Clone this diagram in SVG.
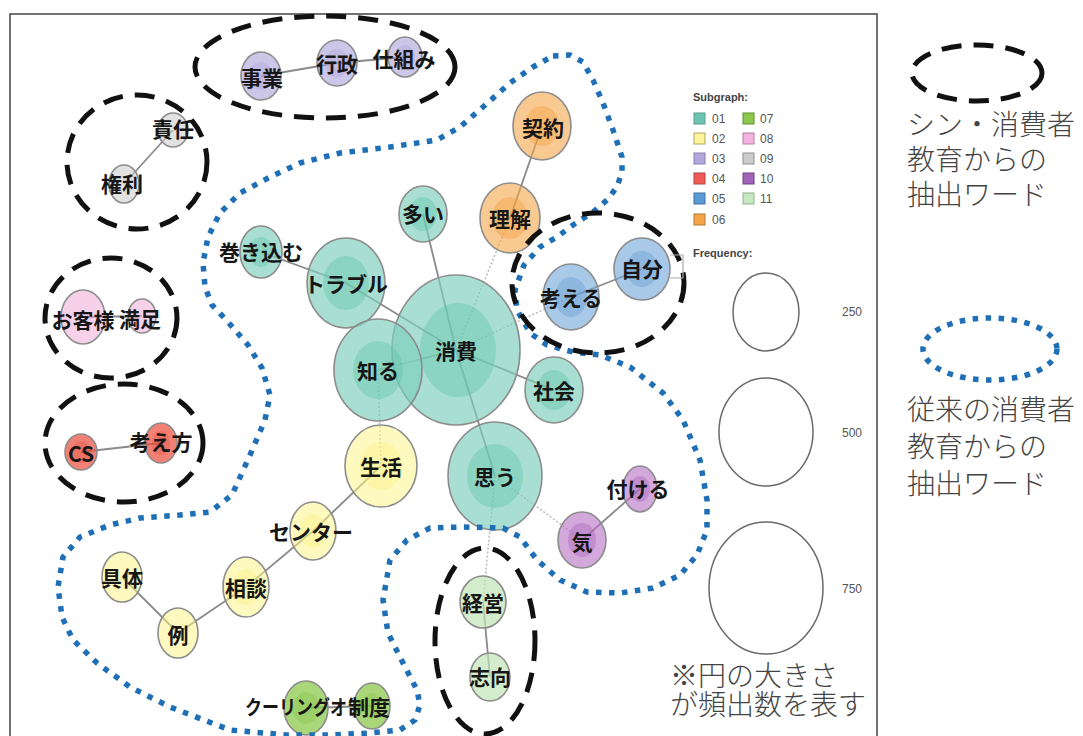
<svg xmlns="http://www.w3.org/2000/svg" width="1083" height="736" viewBox="0 0 1083 736">
<style>
.n{stroke:#8c8c8c;stroke-width:1.6}
.in{stroke:none}
.t{font-family:"Noto Sans CJK JP","Noto Sans CJK SC",sans-serif;font-weight:bold;font-size:21px;fill:#161616;text-anchor:middle;dominant-baseline:central}
.e{stroke:#8a8a8a;stroke-width:1.8;fill:none}
.d{stroke:#bdbdbd;stroke-width:1.6;fill:none;stroke-dasharray:2 2}
.g{fill:none;stroke:#111;stroke-width:5;stroke-dasharray:20 12}
.b{fill:none;stroke:#1f6fb6;stroke-width:5.5;stroke-dasharray:5.5 7.5}
.lg{font-family:"Liberation Sans",Arial,sans-serif;font-size:12px;fill:#555}
.lh{font-family:"Liberation Sans",Arial,sans-serif;font-size:11px;font-weight:bold;fill:#444}
.jt{font-family:"Noto Sans CJK JP","Noto Sans CJK SC",sans-serif;font-size:28px;font-weight:300;fill:#444}
.c01{fill:#7fd0bd;fill-opacity:.68}.i01{fill:#5fc2aa;fill-opacity:.4}
.c02{fill:#fdf58a;fill-opacity:.55}.i02{fill:#fbef70;fill-opacity:.3}
.c03{fill:#aaa2d8;fill-opacity:.6}.i03{fill:#9a90d0;fill-opacity:.25}
.c04{fill:#ec5040;fill-opacity:.72}.i04{fill:#e04030;fill-opacity:.25}
.c05{fill:#6fa5d8;fill-opacity:.6}.i05{fill:#5a94cc;fill-opacity:.35}
.c06{fill:#f5a54a;fill-opacity:.6}.i06{fill:#f39a30;fill-opacity:.35}
.c07{fill:#8cc84b;fill-opacity:.75}.i07{fill:#7cbc38;fill-opacity:.25}
.c08{fill:#f2b2dc;fill-opacity:.6}.i08{fill:#ee9ed2;fill-opacity:.2}
.c09{fill:#cfcfcf;fill-opacity:.6}.i09{fill:#c0c0c0;fill-opacity:.2}
.c10{fill:#b56fc4;fill-opacity:.6}.i10{fill:#a458b8;fill-opacity:.35}
.c11{fill:#c0e4b5;fill-opacity:.7}.i11{fill:#a8d89a;fill-opacity:.2}
</style>
<rect x="0" y="0" width="1083" height="736" fill="#ffffff"/>
<path d="M10,742 V14 H877 V742" fill="none" stroke="#444" stroke-width="1.5"/>

<g id="connectors">
<line class="e" x1="261" y1="76" x2="337" y2="63"/>
<line class="e" x1="337" y1="63" x2="405" y2="57"/>
<line class="e" x1="173" y1="130" x2="124" y2="184"/>
<line class="e" x1="83" y1="317" x2="142" y2="316"/>
<line class="e" x1="81" y1="452" x2="161" y2="443"/>
<line class="e" x1="261" y1="252" x2="346" y2="283"/>
<line class="e" x1="346" y1="283" x2="456" y2="350"/>
<line class="e" x1="423" y1="214" x2="456" y2="350"/>
<line class="e" x1="378" y1="370" x2="456" y2="350"/>
<line class="e" x1="456" y1="350" x2="554" y2="390"/>
<line class="e" x1="456" y1="350" x2="495" y2="476"/>
<line class="e" x1="510" y1="218" x2="542" y2="126"/>
<line class="e" x1="571" y1="297" x2="642" y2="269"/>
<line class="e" x1="640" y1="489" x2="582" y2="540"/>
<line class="e" x1="483" y1="602" x2="490" y2="677"/>
<line class="e" x1="381" y1="466" x2="313" y2="531"/>
<line class="e" x1="313" y1="531" x2="246" y2="587"/>
<line class="e" x1="246" y1="587" x2="178" y2="633"/>
<line class="e" x1="178" y1="633" x2="122" y2="577"/>
<line class="e" x1="306" y1="708" x2="372" y2="706"/>
<line class="d" x1="510" y1="218" x2="456" y2="350"/>
<line class="d" x1="456" y1="350" x2="571" y2="297"/>
<line class="d" x1="378" y1="370" x2="381" y2="466"/>
<line class="d" x1="495" y1="476" x2="582" y2="540"/>
<line class="d" x1="495" y1="476" x2="483" y2="602"/>
</g>

<g id="n-jigyo"><ellipse class="n c03" cx="261" cy="76" rx="20" ry="24"/><ellipse class="in i03" cx="261" cy="76" rx="12" ry="14"/><text class="t" x="262" y="77">事業</text></g>
<g id="n-gyosei"><ellipse class="n c03" cx="337" cy="63" rx="20" ry="23"/><ellipse class="in i03" cx="337" cy="63" rx="12" ry="14"/><text class="t" x="337" y="63">行政</text></g>
<g id="n-shikumi"><ellipse class="n c03" cx="405" cy="57" rx="17" ry="20"/><ellipse class="in i03" cx="405" cy="57" rx="10" ry="12"/><text class="t" x="404" y="58">仕組み</text></g>
<g id="n-sekinin"><ellipse class="n c09" cx="173" cy="130" rx="15" ry="17"/><text class="t" x="173" y="128">責任</text></g>
<g id="n-kenri"><ellipse class="n c09" cx="124" cy="184" rx="15" ry="19"/><text class="t" x="122" y="183">権利</text></g>
<g id="n-okyakusama"><ellipse class="n c08" cx="83" cy="317" rx="22" ry="27"/><text class="t" x="83" y="319">お客様</text></g>
<g id="n-manzoku"><ellipse class="n c08" cx="142" cy="316" rx="14" ry="17"/><text class="t" x="140" y="318">満足</text></g>
<g id="n-cs"><ellipse class="n c04" cx="81" cy="452" rx="16" ry="18"/><ellipse class="in i04" cx="81" cy="452" rx="9" ry="11"/><text class="t" x="81" y="453">CS</text></g>
<g id="n-kangaekata"><ellipse class="n c04" cx="161" cy="443" rx="16" ry="20"/><ellipse class="in i04" cx="161" cy="443" rx="9" ry="12"/><text class="t" x="161" y="441">考え方</text></g>
<g id="n-makikomu"><ellipse class="n c01" cx="261" cy="252" rx="21" ry="26"/><ellipse class="in i01" cx="261" cy="252" rx="12" ry="15"/><text class="t" x="261" y="251">巻き込む</text></g>
<g id="n-trouble"><ellipse class="n c01" cx="346" cy="283" rx="39" ry="45"/><ellipse class="in i01" cx="346" cy="283" rx="23" ry="27"/><text class="t" x="346" y="283">トラブル</text></g>
<g id="n-ooi"><ellipse class="n c01" cx="423" cy="214" rx="24" ry="28"/><ellipse class="in i01" cx="423" cy="214" rx="14" ry="17"/><text class="t" x="423" y="213">多い</text></g>
<g id="n-rikai"><ellipse class="n c06" cx="510" cy="218" rx="30" ry="35"/><ellipse class="in i06" cx="510" cy="218" rx="18" ry="21"/><text class="t" x="510" y="218">理解</text></g>
<g id="n-keiyaku"><ellipse class="n c06" cx="542" cy="126" rx="29" ry="34"/><ellipse class="in i06" cx="542" cy="126" rx="17" ry="20"/><text class="t" x="543" y="127">契約</text></g>
<g id="n-shohi"><ellipse class="n c01" cx="456" cy="350" rx="64" ry="75"/><ellipse class="in i01" cx="458" cy="350" rx="38" ry="47"/><text class="t" x="456" y="350">消費</text></g>
<g id="n-shiru"><ellipse class="n c01" cx="378" cy="370" rx="44" ry="51"/><ellipse class="in i01" cx="378" cy="370" rx="25" ry="29"/><text class="t" x="378" y="370">知る</text></g>
<g id="n-shakai"><ellipse class="n c01" cx="554" cy="390" rx="29" ry="33"/><ellipse class="in i01" cx="554" cy="390" rx="17" ry="20"/><text class="t" x="554" y="390">社会</text></g>
<g id="n-kangaeru"><ellipse class="n c05" cx="571" cy="297" rx="28" ry="33"/><ellipse class="in i05" cx="571" cy="297" rx="16" ry="20"/><text class="t" x="571" y="297">考える</text></g>
<g id="n-jibun"><ellipse class="n c05" cx="642" cy="269" rx="28" ry="31"/><ellipse class="in i05" cx="642" cy="269" rx="16" ry="18"/><text class="t" x="642" y="268">自分</text></g>
<g id="n-omou"><ellipse class="n c01" cx="495" cy="476" rx="47" ry="54"/><ellipse class="in i01" cx="495" cy="476" rx="28" ry="32"/><text class="t" x="495" y="476">思う</text></g>
<g id="n-tsukeru"><ellipse class="n c10" cx="640" cy="489" rx="17" ry="23"/><ellipse class="in i10" cx="640" cy="489" rx="10" ry="13"/><text class="t" x="638" y="488">付ける</text></g>
<g id="n-ki"><ellipse class="n c10" cx="582" cy="540" rx="24" ry="28"/><ellipse class="in i10" cx="582" cy="540" rx="14" ry="17"/><text class="t" x="582" y="541">気</text></g>
<g id="n-seikatsu"><ellipse class="n c02" cx="381" cy="466" rx="36" ry="41"/><ellipse class="in i02" cx="381" cy="466" rx="21" ry="24"/><text class="t" x="381" y="466">生活</text></g>
<g id="n-center"><ellipse class="n c02" cx="313" cy="531" rx="23" ry="29"/><ellipse class="in i02" cx="313" cy="531" rx="13" ry="17"/><text class="t" x="311" y="531">センター</text></g>
<g id="n-sodan"><ellipse class="n c02" cx="246" cy="587" rx="23" ry="30"/><ellipse class="in i02" cx="246" cy="587" rx="13" ry="18"/><text class="t" x="246" y="587">相談</text></g>
<g id="n-gutai"><ellipse class="n c02" cx="122" cy="577" rx="20" ry="25"/><text class="t" x="122" y="577">具体</text></g>
<g id="n-rei"><ellipse class="n c02" cx="178" cy="633" rx="20" ry="25"/><text class="t" x="178" y="634">例</text></g>
<g id="n-coolingoff"><ellipse class="n c07" cx="306" cy="708" rx="22" ry="27"/><ellipse class="in i07" cx="306" cy="708" rx="13" ry="16"/><text class="t" x="245" y="706" style="text-anchor:start;font-size:20px" textLength="119" lengthAdjust="spacingAndGlyphs">クーリングオフ</text></g>
<g id="n-seido"><ellipse class="n c07" cx="372" cy="706" rx="18" ry="23"/><ellipse class="in i07" cx="372" cy="706" rx="10" ry="13"/><text class="t" x="369" y="706">制度</text></g>
<g id="n-keiei"><ellipse class="n c11" cx="483" cy="602" rx="23" ry="26"/><text class="t" x="483" y="602">経営</text></g>
<g id="n-shiko"><ellipse class="n c11" cx="490" cy="677" rx="20" ry="24"/><text class="t" x="490" y="676">志向</text></g>

<g id="group-outlines">
<path class="b" d="M553,56 L570,55 L583,62 L593,80 L603,103 L613,130 L622,157 L622,172 L617,187 L607,200 L593,212 L573,225 L557,237 L540,247 L524,265 L515,290 L517,310 L530,333 L547,345 L573,352 L600,355 L630,367 L663,393 L683,420 L700,460 L707,500 L707,530 L697,555 L680,575 L653,588 L620,593 L587,592 L560,580 L537,560 L520,537 L503,528 L463,527 L430,528 L407,540 L390,560 L383,600 L388,633 L403,663 L417,690 L420,705 L415,720 L400,730 L370,733 L330,735 L287,735 L230,730 L170,707 L130,687 L97,663 L73,640 L62,617 L58,587 L63,557 L80,537 L110,525 L140,518 L180,515 L210,512 L232,495 L250,455 L265,420 L270,395 L262,368 L248,345 L228,322 L212,305 L205,287 L203,263 L208,237 L220,213 L240,193 L270,177 L300,163 L340,153 L390,147 L437,140 L460,127 L483,107 L510,83 L533,67 Z" stroke-linejoin="round"/>
<ellipse class="g" cx="325" cy="67" rx="130" ry="51"/>
<ellipse class="g" cx="137" cy="162" rx="70" ry="67"/>
<ellipse class="g" cx="111" cy="318" rx="66" ry="60"/>
<ellipse class="g" cx="124" cy="443" rx="79" ry="59"/>
<ellipse class="g" cx="598" cy="283" rx="86" ry="70"/>
<ellipse class="g" cx="485" cy="641" rx="50" ry="93"/>
</g>

<g id="legend-subgraph">
<text class="lh" x="693" y="101">Subgraph:</text>
<rect x="694" y="113" width="11" height="11" fill="#6cc5b0" stroke="#5a9a8a"/><text class="lg" x="712" y="123">01</text>
<rect x="694" y="133" width="11" height="11" fill="#fdf59a" stroke="#b0a860"/><text class="lg" x="712" y="143">02</text>
<rect x="694" y="153" width="11" height="11" fill="#b3a6dc" stroke="#8a80b0"/><text class="lg" x="712" y="163">03</text>
<rect x="694" y="173" width="11" height="11" fill="#ef5b55" stroke="#b04040"/><text class="lg" x="712" y="183">04</text>
<rect x="694" y="193" width="11" height="11" fill="#5b9bd5" stroke="#4070a0"/><text class="lg" x="712" y="203">05</text>
<rect x="694" y="214" width="11" height="11" fill="#f5a54a" stroke="#b07830"/><text class="lg" x="712" y="224">06</text>
<rect x="743" y="113" width="11" height="11" fill="#8cc84b" stroke="#609030"/><text class="lg" x="760" y="123">07</text>
<rect x="743" y="133" width="11" height="11" fill="#f4b3de" stroke="#b080a0"/><text class="lg" x="760" y="143">08</text>
<rect x="743" y="153" width="11" height="11" fill="#cccccc" stroke="#909090"/><text class="lg" x="760" y="163">09</text>
<rect x="743" y="173" width="11" height="11" fill="#a063b8" stroke="#704080"/><text class="lg" x="760" y="183">10</text>
<rect x="743" y="193" width="11" height="11" fill="#c5e8c0" stroke="#90b088"/><text class="lg" x="760" y="203">11</text>
</g>

<g id="legend-frequency">
<path d="M670,255 H683 V278 H670" fill="none" stroke="#aaa" stroke-width="1.2"/>
<text class="lh" x="693" y="257">Frequency:</text>
<ellipse cx="766" cy="312" rx="33" ry="39" fill="none" stroke="#6a6a6a" stroke-width="1.5"/>
<ellipse cx="766" cy="432" rx="47" ry="54" fill="none" stroke="#6a6a6a" stroke-width="1.5"/>
<ellipse cx="766" cy="588" rx="57" ry="66" fill="none" stroke="#6a6a6a" stroke-width="1.5"/>
<text class="lg" x="842" y="316">250</text>
<text class="lg" x="842" y="437">500</text>
<text class="lg" x="842" y="593">750</text>
<text class="jt" x="670" y="686">※円の大きさ</text>
<text class="jt" x="670" y="715">が頻出数を表す</text>
</g>

<g id="legend-outlines">
<ellipse class="g" cx="977" cy="73" rx="65" ry="28"/>
<text class="jt" x="907" y="135">シン・消費者</text>
<text class="jt" x="907" y="170">教育からの</text>
<text class="jt" x="907" y="205">抽出ワード</text>
<ellipse class="b" cx="990" cy="349" rx="67" ry="31"/>
<text class="jt" x="907" y="420">従来の消費者</text>
<text class="jt" x="907" y="457">教育からの</text>
<text class="jt" x="907" y="494">抽出ワード</text>
</g>
</svg>
